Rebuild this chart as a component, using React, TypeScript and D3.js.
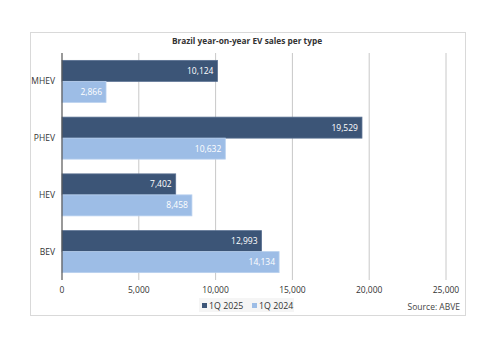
import React, { useEffect, useRef } from 'react';
import * as d3 from 'd3';

const categories = ['MHEV', 'PHEV', 'HEV', 'BEV'];
const series = ['1Q 2025', '1Q 2024'];
const values2025 = [10124, 19529, 7402, 12993];
const values2024 = [2866, 10632, 8458, 14134];
const xTicks = [0, 5000, 10000, 15000, 20000, 25000];
const colors = ['#3c5577', '#9dbde6'];

const FONT = 'Open Sans, DejaVu Sans, sans-serif';

const App = () => {
  const ref = useRef<SVGSVGElement>(null);

  useEffect(() => {
    const svg = d3.select(ref.current);
    svg.selectAll('*').remove();

    const left = 62, right = 446, top = 53, bottom = 280;

    // frame
    svg.append('rect')
      .attr('x', 30.5).attr('y', 32.5).attr('width', 435).attr('height', 283)
      .attr('fill', '#fff').attr('stroke', '#d9d9d9').attr('stroke-width', 1);

    svg.append('text')
      .attr('x', 247).attr('y', 44)
      .attr('text-anchor', 'middle')
      .style('font-family', FONT).style('font-size', '8.3px').style('font-weight', 'bold')
      .attr('fill', '#333')
      .text('Brazil year-on-year EV sales per type');

    const x = d3.scaleLinear().domain([0, 25000]).range([left, right]);
    const y = d3.scaleBand().domain(categories).range([top, bottom]).paddingInner(0.26).paddingOuter(0.13);
    const ys = d3.scaleBand().domain(series).range([0, y.bandwidth()]);

    // grid
    svg.append('g').selectAll('line')
      .data(xTicks.slice(1))
      .enter().append('line')
      .attr('x1', d => x(d)).attr('x2', d => x(d))
      .attr('y1', top).attr('y2', bottom)
      .attr('stroke', '#c8c8c8').attr('stroke-width', 1);

    const rows = categories.map((c, i) => ({ c, vals: [values2025[i], values2024[i]] }));

    const g = svg.append('g');
    rows.forEach(r => {
      r.vals.forEach((v, j) => {
        const yy = (y(r.c) as number) + (ys(series[j]) as number);
        g.append('rect')
          .attr('x', x(0)).attr('y', yy)
          .attr('width', x(v) - x(0)).attr('height', ys.bandwidth())
          .attr('fill', colors[j])
          .attr('stroke', j === 0 ? '#5a7092' : '#b8d0ee').attr('stroke-width', 0.8);
        g.append('text')
          .attr('x', x(v) - 4).attr('y', yy + ys.bandwidth() / 2)
          .attr('dy', '0.35em').attr('text-anchor', 'end')
          .style('font-family', FONT).style('font-size', '8.5px')
          .attr('fill', '#fff')
          .text(d3.format(',')(v));
      });
      svg.append('text')
        .attr('x', 55).attr('y', (y(r.c) as number) + y.bandwidth() / 2)
        .attr('dy', '0.35em').attr('text-anchor', 'end')
        .style('font-family', FONT).style('font-size', '8.5px')
        .attr('fill', '#333')
        .text(r.c);
    });

    // y axis line
    svg.append('line')
      .attr('x1', left).attr('x2', left).attr('y1', top).attr('y2', bottom)
      .attr('stroke', '#555').attr('stroke-width', 1.2);

    svg.append('g').selectAll('text')
      .data(xTicks)
      .enter().append('text')
      .attr('x', d => x(d)).attr('y', 293)
      .attr('text-anchor', 'middle')
      .style('font-family', FONT).style('font-size', '8.5px')
      .attr('fill', '#333')
      .text(d => d3.format(',')(d));

    // legend
    svg.append('rect')
      .attr('x', 199).attr('y', 298).attr('width', 95).attr('height', 14)
      .attr('fill', '#f5f5f5');
    const lx = [202, 252];
    series.forEach((s, i) => {
      svg.append('rect')
        .attr('x', lx[i]).attr('y', 303).attr('width', 5).attr('height', 5)
        .attr('fill', colors[i]);
      svg.append('text')
        .attr('x', lx[i] + 7).attr('y', 308.5)
        .style('font-family', FONT).style('font-size', '8.8px')
        .attr('fill', '#333')
        .text(s);
    });

    svg.append('text')
      .attr('x', 460).attr('y', 310)
      .attr('text-anchor', 'end')
      .style('font-family', FONT).style('font-size', '8.5px')
      .attr('fill', '#444')
      .text('Source: ABVE');
  }, []);

  return (
    <div style={{ position: 'absolute', left: 0, top: 0 }}>
      <svg ref={ref} width={500} height={353} style={{ display: 'block', background: '#fff' }} />
    </div>
  );
};

export default App;
